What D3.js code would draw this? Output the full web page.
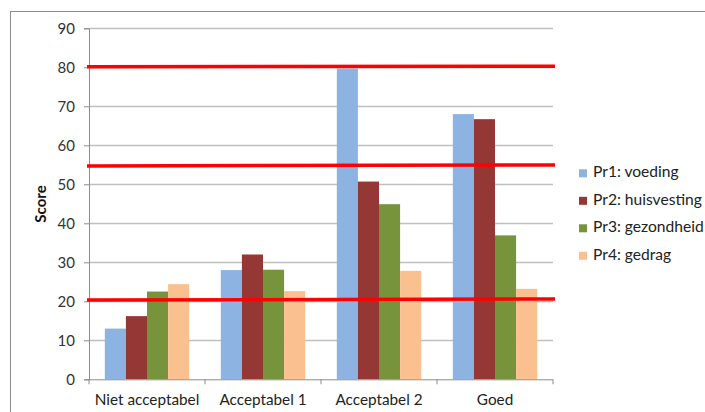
<!DOCTYPE html>
<html><head><meta charset="utf-8">
<script src="https://cdn.jsdelivr.net/npm/d3@7/dist/d3.min.js"></script>
<style>html,body{margin:0;padding:0;background:#fff;} svg{display:block;}</style>
</head><body>
<svg id="chart" width="705" height="412"></svg>
<script>
const categories = ["Niet acceptabel", "Acceptabel 1", "Acceptabel 2", "Goed"];
const seriesNames = ["Pr1: voeding", "Pr2: huisvesting", "Pr3: gezondheid", "Pr4: gedrag"];
const pr1 = [13, 28, 79.7, 68];
const pr2 = [16.2, 32, 50.7, 66.7];
const pr3 = [22.5, 28.1, 44.9, 36.9];
const pr4 = [24.4, 22.6, 27.8, 23.2];
const colors = ["#8db3e2", "#953735", "#77933c", "#fac090"];
const yTicks = [0, 10, 20, 30, 40, 50, 60, 70, 80, 90];
// hand-drawn red threshold lines: [value at left end, value at right end]
const redLines = [[80.15, 80.3], [54.7, 54.95], [20.33, 20.6]];

const series = [pr1, pr2, pr3, pr4];
const svg = d3.select("#chart");
const font = "Lato, 'Open Sans', sans-serif";

// outer border
svg.append("rect").attr("x", 10.5).attr("y", 11.5).attr("width", 720).attr("height", 420)
  .attr("fill", "none").attr("stroke", "#8c8c8c").attr("stroke-width", 1);

const plotL = 89, plotR = 553, plotT = 28.3, plotB = 379.3;
const y = d3.scaleLinear().domain([0, 90]).range([plotB, plotT]);
const x0 = d3.scaleBand().domain(categories).range([plotL, plotR]).paddingInner(0).paddingOuter(0);
const x1 = d3.scaleBand().domain(d3.range(4)).range([0, x0.bandwidth()]).paddingInner(0).paddingOuter(0.75);

// gridlines
svg.append("g").selectAll("line").data(yTicks.filter(d => d > 0)).join("line")
  .attr("x1", plotL).attr("x2", plotR)
  .attr("y1", d => Math.round(y(d)) + 0.5).attr("y2", d => Math.round(y(d)) + 0.5)
  .attr("stroke", "#c0c0c0").attr("stroke-width", 1.3);

// y axis
const yAxis = d3.axisLeft(y).tickValues(yTicks).tickSize(5).tickPadding(9).tickFormat(d3.format("d"));
const gy = svg.append("g").attr("transform", `translate(${plotL},0)`).call(yAxis);
gy.select(".domain").attr("stroke", "#8c8c8c");
gy.selectAll(".tick line").attr("stroke", "#8c8c8c");
gy.selectAll("text").attr("font-family", font).attr("font-size", 15).attr("fill", "#333");

// bars
const gBars = svg.append("g");
categories.forEach((c, ci) => {
  series.forEach((s, si) => {
    gBars.append("rect")
      .attr("x", x0(c) + x1(si))
      .attr("y", y(s[ci]))
      .attr("width", x1.bandwidth())
      .attr("height", plotB - y(s[ci]))
      .attr("fill", colors[si]);
  });
});

// x axis
const gx = svg.append("g").attr("transform", `translate(0,${plotB})`);
gx.append("line").attr("x1", plotL).attr("x2", plotR).attr("y1", 0.5).attr("y2", 0.5).attr("stroke", "#8c8c8c");
const bounds = categories.map(c => x0(c)).concat([plotR]);
gx.selectAll("line.t").data(bounds).join("line").attr("class", "t")
  .attr("x1", d => d).attr("x2", d => d).attr("y1", 0).attr("y2", 5).attr("stroke", "#8c8c8c");
gx.selectAll("text").data(categories).join("text")
  .attr("x", d => x0(d) + x0.bandwidth() / 2).attr("y", 26)
  .attr("text-anchor", "middle").attr("font-family", font).attr("font-size", 15.3).attr("fill", "#222")
  .text(d => d);

// y title
svg.append("text").attr("transform", `translate(42,204) rotate(-90)`)
  .attr("text-anchor", "middle").attr("dominant-baseline", "middle")
  .attr("font-family", font).attr("font-size", 15).attr("font-weight", "bold").attr("fill", "#111")
  .text("Score");

// red lines
svg.append("g").selectAll("line").data(redLines).join("line")
  .attr("x1", 87).attr("x2", 555)
  .attr("y1", d => y(d[0])).attr("y2", d => y(d[1]))
  .attr("stroke", "#ff0000").attr("stroke-width", 3.5);

// legend
const lg = svg.append("g");
seriesNames.forEach((n, i) => {
  const cy = 173.3 + i * 27.5;
  lg.append("rect").attr("x", 579).attr("y", cy - 4).attr("width", 8).attr("height", 8).attr("fill", colors[i]);
  lg.append("text").attr("x", 593).attr("y", cy).attr("dominant-baseline", "middle")
    .attr("font-family", font).attr("font-size", 15.6).attr("fill", "#222").text(n);
});
</script>
</body></html>
